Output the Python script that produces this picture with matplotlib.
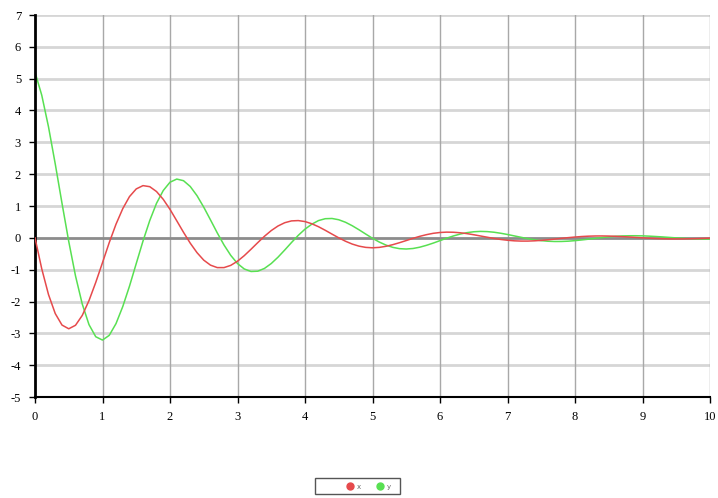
import matplotlib
matplotlib.use("Agg")
import matplotlib.pyplot as plt
from matplotlib.patches import Rectangle
from matplotlib.lines import Line2D

# time axis (values read every 0.1)
t = [i / 10 for i in range(101)]

red = [0.000, -0.974, -1.782, -2.379, -2.740, -2.857, -2.747, -2.438, -1.971, -1.400,
       -0.779, -0.149, 0.428, 0.916, 1.296, 1.537, 1.640, 1.607, 1.455, 1.209,
       0.894, 0.536, 0.174, -0.168, -0.465, -0.701, -0.858, -0.935, -0.935, -0.865,
       -0.734, -0.560, -0.359, -0.151, 0.050, 0.228, 0.372, 0.475, 0.532, 0.542,
       0.511, 0.443, 0.349, 0.237, 0.117, 0.000, -0.107, -0.196, -0.261, -0.300,
       -0.313, -0.300, -0.266, -0.215, -0.153, -0.085, -0.016, 0.047, 0.100, 0.142,
       0.168, 0.179, 0.175, 0.159, 0.132, 0.097, 0.058, 0.019, -0.019, -0.051,
       -0.076, -0.094, -0.102, -0.102, -0.094, -0.080, -0.061, -0.039, -0.016, 0.006,
       0.025, 0.041, 0.052, 0.058, 0.059, 0.056, 0.048, 0.038, 0.026, 0.013,
       0.000, -0.012, -0.021, -0.028, -0.033, -0.034, -0.033, -0.029, -0.024, -0.017,
       -0.009]

green = [5.202, 4.481, 3.487, 2.321, 1.086, -0.115, -1.195, -2.079, -2.727, -3.107,
         -3.212, -3.063, -2.695, -2.160, -1.517, -0.807, -0.101, 0.543, 1.084, 1.486,
         1.747, 1.846, 1.795, 1.613, 1.325, 0.963, 0.563, 0.156, -0.224, -0.551,
         -0.807, -0.978, -1.057, -1.048, -0.960, -0.807, -0.608, -0.382, -0.147, 0.077,
         0.273, 0.428, 0.542, 0.601, 0.608, 0.568, 0.489, 0.380, 0.253, 0.118,
         -0.014, -0.132, -0.228, -0.299, -0.340, -0.351, -0.335, -0.294, -0.235, -0.165,
         -0.088, -0.010, 0.060, 0.119, 0.163, 0.191, 0.202, 0.196, 0.176, 0.144,
         0.105, 0.061, 0.017, -0.025, -0.060, -0.088, -0.107, -0.115, -0.114, -0.105,
         -0.088, -0.066, -0.042, -0.016, 0.009, 0.030, 0.047, 0.059, 0.065, 0.066,
         0.062, 0.053, 0.041, 0.028, 0.013, -0.002, -0.014, -0.025, -0.033, -0.037,
         -0.038]

labels = ["x", "y"]
colors = ["#e64a4c", "#58e052"]
x_ticks = list(range(0, 11))
y_ticks = list(range(-5, 8))

W, H = 718, 498
fig = plt.figure(figsize=(W / 100, H / 100), dpi=100)
ax = fig.add_axes([35 / W, 1 - 397 / H, (710 - 35) / W, (397 - 15) / H])

# grid: light horizontal, darker thin vertical
for yv in y_ticks:
    if yv == 0:
        continue
    ax.axhline(yv, color="#d6d6d6", lw=2.0, zorder=0)
for xv in x_ticks[1:]:
    ax.axvline(xv, color="#a8a8a8", lw=1.0, zorder=0)
ax.axhline(0, color="#8c8c8c", lw=2.0, zorder=1)

ax.plot(t, red, color=colors[0], lw=1.1, zorder=3)
ax.plot(t, green, color=colors[1], lw=1.1, zorder=2)

ax.set_xlim(0, 10)
ax.set_ylim(-5, 7)
ax.set_xticks(x_ticks)
ax.set_yticks(y_ticks)
ax.set_xticklabels([str(v) for v in x_ticks], family="Liberation Serif", fontsize=9)
ax.set_yticklabels([str(v) for v in y_ticks], family="Liberation Serif", fontsize=9)
ax.tick_params(direction="out", length=4, width=1, color="black", pad=6)

for side in ("top", "right"):
    ax.spines[side].set_visible(False)
ax.spines["left"].set_linewidth(2.0)
ax.spines["bottom"].set_linewidth(1.5)

# small legend box under the plot: frame, dot markers, tiny labels
fig.add_artist(Rectangle((315 / W, 1 - 494 / H), 85 / W, 16 / H,
                         transform=fig.transFigure, fill=False,
                         edgecolor="#555555", lw=1.0))
for i, (lab, col) in enumerate(zip(labels, colors)):
    xm = (350 + 30 * i) / W
    ym = 1 - 486 / H
    fig.add_artist(Line2D([xm], [ym], transform=fig.transFigure, ls="none",
                          marker="o", ms=5, color=col, mec=col))
    fig.text(xm + 9 / W, ym - 1 / H, lab, fontsize=5, color="#666666",
             ha="center", va="center")

fig.savefig("out.png", dpi=100)
